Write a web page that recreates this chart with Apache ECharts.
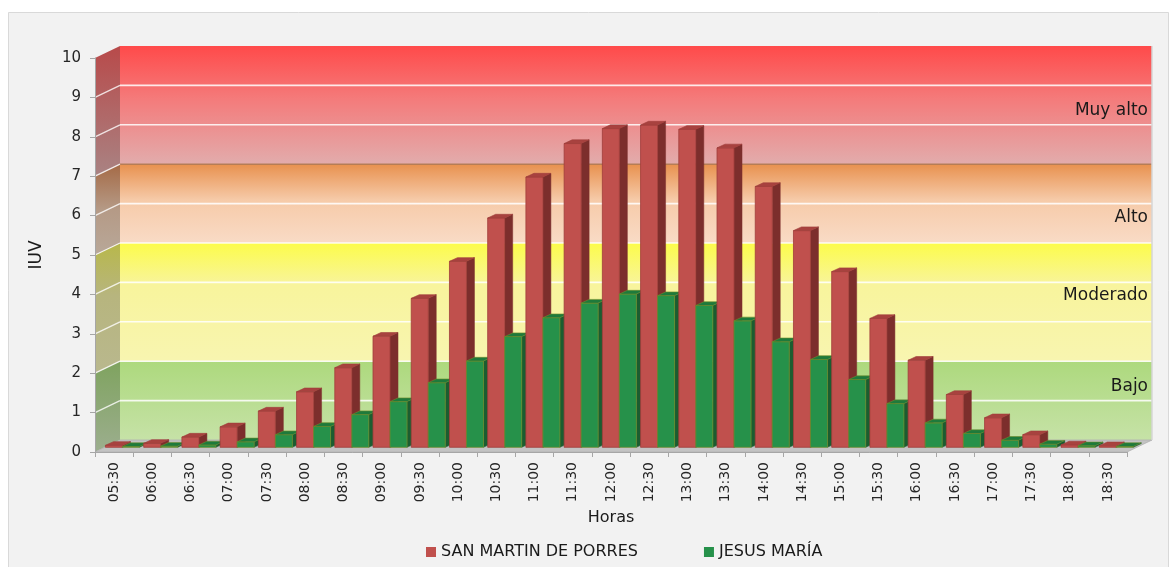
<!DOCTYPE html>
<html>
<head>
<meta charset="utf-8">
<script src="https://cdn.jsdelivr.net/npm/echarts@6/dist/echarts.min.js"></script>
<style>html,body{margin:0;padding:0;background:#fff;}#c{width:1169px;height:567px;}</style>
</head>
<body>
<div id="c"></div>
<script>
// ---- data ----
const categories = ['05:30','06:00','06:30','07:00','07:30','08:00','08:30','09:00','09:30','10:00','10:30','11:00','11:30','12:00','12:30','13:00','13:30','14:00','14:30','15:00','15:30','16:00','16:30','17:00','17:30','18:00','18:30'];
const sanMartin = [0.05,0.1,0.26,0.52,0.92,1.41,2.02,2.82,3.78,4.72,5.82,6.86,7.71,8.09,8.18,8.07,7.6,6.62,5.5,4.46,3.27,2.21,1.34,0.75,0.32,0.06,0.04];
const jesusMaria = [0.02,0.03,0.06,0.14,0.32,0.53,0.83,1.16,1.64,2.19,2.81,3.29,3.66,3.89,3.85,3.6,3.21,2.68,2.23,1.72,1.11,0.62,0.35,0.18,0.08,0.04,0.02];
const seriesNames = ['SAN MARTIN DE PORRES','JESUS MARÍA'];
const bandNames = ['Bajo','Moderado','Alto','Muy alto'];
const bandLow = [0,2,5,7];
const bandHigh = [2,5,7,10];
const bandLabelAt = [1.35,3.66,5.64,8.36];
const yTicks = [0,1,2,3,4,5,6,7,8,9,10];

// ---- styles ----
const DX = 25, DY = -12;      // back wall offset
const BX = 10, BY = -4.7;     // bar front-face depth
const BDX = 8, BDY = -3.7;    // bar depth
const FONT = 'DejaVu Sans';
const LG = (stops) => new echarts.graphic.LinearGradient(0,0,0,1,stops.map((c)=>({offset:c[0],color:c[1]})));
const bandBack = [
  [[0,'#add97d'],[1,'#c6e2a7']],
  [[0,'#fcfc4a'],[0.35,'#f8f49c'],[1,'#f8f5b0']],
  [[0,'#e8914f'],[0.45,'#f6caa8'],[1,'#f9dbc6']],
  [[0,'#ff4a4a'],[0.45,'#f47b7b'],[1,'#e2acac']]
];
const bandSide = [
  [[0,'#7fa35f'],[1,'#9cae8e']],
  [[0,'#b8b84a'],[0.4,'#b7b57e'],[1,'#b9b88e']],
  [[0,'#a56a46'],[0.5,'#b59a86'],[1,'#b8a899']],
  [[0,'#b84a4a'],[1,'#a98383']]
];
const barColors = [
  {front:'#c0504d', side:'#7c2e2c', top:'#a8423f', edge:'#a03e3b'},
  {front:'#26914a', side:'#1b5d30', top:'#1e7a3b', edge:'#6f8c2c'}
];

const chart = echarts.init(document.getElementById('c'), null, {renderer:'canvas'});

function renderWall(params, api){
  const i = params.dataIndex;
  const cs = params.coordSys;
  const x0 = cs.x, x1 = cs.x + cs.width;
  const yLo = api.coord([0, api.value(1)])[1];
  const yHi = api.coord([0, api.value(2)])[1];
  const yLab = api.coord([0, bandLabelAt[i]])[1] + DY;
  return {type:'group', children:[
    {type:'rect', z2:1, shape:{x:x0+DX, y:yHi+DY, width:cs.width, height:yLo-yHi}, style:{fill:LG(bandBack[i])}},
    {type:'polygon', z2:1, shape:{points:[[x0,yLo],[x0,yHi],[x0+DX,yHi+DY],[x0+DX,yLo+DY]]}, style:{fill:LG(bandSide[i])}},
    {type:'text', z2:5, x:x1+DX-4, y:yLab, style:{text:bandNames[i], textAlign:'right', textVerticalAlign:'middle', font:'17px "'+FONT+'"', fill:'#1a1a1a'}}
  ]};
}

function renderGrid(params, api){
  const cs = params.coordSys;
  const x0 = cs.x, x1 = cs.x + cs.width;
  const v = api.value(1);
  const y = api.coord([0, v])[1];
  if (v === 0) {
    return {type:'group', children:[
      {type:'polygon', z2:3, shape:{points:[[x0,y],[x1,y],[x1+DX,y+DY],[x0+DX,y+DY]]}, style:{fill:'#c3c3c3', stroke:'#b0b0b0', lineWidth:0.8}},
      {type:'line', z2:3, shape:{x1:x1+DX, y1:y+DY, x2:x1+DX, y2:api.coord([0,10])[1]+DY}, style:{stroke:'#d6d6d6', lineWidth:1.5}}
    ]};
  }
  if (v === 10) return null;
  const stroke = v === 7 ? 'rgba(176,120,80,0.9)' : 'rgba(255,255,255,0.85)';
  return {type:'group', children:[
    {type:'line', z2:2, shape:{x1:x0+DX, y1:y+DY, x2:x1+DX, y2:y+DY}, style:{stroke:stroke, lineWidth:1.6}},
    {type:'line', z2:2, shape:{x1:x0, y1:y, x2:x0+DX, y2:y+DY}, style:{stroke:'rgba(255,255,255,0.8)', lineWidth:1.3}}
  ]};
}

function makeBarRender(s){
  const col = barColors[s];
  return function(params, api){
    const i = api.value(0);
    const top = api.coord([i, api.value(1)]);
    const bot = api.coord([i, 0]);
    const w = api.size([1,0])[0];
    const bw = w*0.445;
    const x0 = top[0] - w/2 + BX + w*0.012 + s*bw;
    const yT = top[1] + BY, yB = bot[1] + BY;
    const z2 = 10 + i*2 + s;
    return {type:'group', children:[
      {type:'polygon', z2:z2, shape:{points:[[x0+bw,yT],[x0+bw+BDX,yT+BDY],[x0+bw+BDX,yB+BDY],[x0+bw,yB]]}, style:{fill:col.side, stroke:col.side, lineWidth:0.5}},
      {type:'rect', z2:z2, shape:{x:x0, y:yT, width:bw, height:Math.max(0,yB-yT)}, style:{fill:col.front, stroke:col.edge, lineWidth:0.8}},
      {type:'polygon', z2:z2, shape:{points:[[x0,yT],[x0+bw,yT],[x0+bw+BDX,yT+BDY],[x0+BDX,yT+BDY]]}, style:{fill:col.top, stroke:col.edge, lineWidth:0.6}}
    ]};
  };
}

const option = {
  backgroundColor:'#ffffff',
  animation:false,
  graphic:[{type:'rect', left:8, top:12, shape:{width:1160, height:560}, style:{fill:'#f2f2f2', stroke:'#d9d9d9', lineWidth:1}, z:-10, silent:true}],
  grid:{left:95, right:42, top:58, bottom:115},
  legend:{
    data:seriesNames, left:421, top:539, icon:'rect', itemWidth:10, itemHeight:10, itemGap:66,
    textStyle:{fontFamily:FONT, fontSize:16, color:'#1a1a1a'}, selectedMode:false
  },
  xAxis:{
    type:'category', data:categories, boundaryGap:true, z:6,
    name:'Horas', nameLocation:'middle', nameGap:58,
    nameTextStyle:{fontFamily:FONT, fontSize:16, color:'#1a1a1a'},
    axisLine:{lineStyle:{color:'#a6a6a6', width:1}},
    axisTick:{show:true, length:5, lineStyle:{color:'#a6a6a6'}},
    axisLabel:{rotate:90, interval:0, margin:10, fontFamily:FONT, fontSize:14, color:'#262626'},
    splitLine:{show:false}
  },
  yAxis:{
    type:'value', min:0, max:10, interval:1, z:6,
    name:'IUV', nameLocation:'middle', nameGap:50,
    nameTextStyle:{fontFamily:FONT, fontSize:17, color:'#1a1a1a'},
    axisLine:{show:true, lineStyle:{color:'#a6a6a6', width:1}},
    axisTick:{show:true, length:5, lineStyle:{color:'#a6a6a6'}},
    axisLabel:{margin:14, fontFamily:FONT, fontSize:15, color:'#262626'},
    splitLine:{show:false}
  },
  series:[
    {type:'custom', name:'bands', z:1, silent:true, renderItem:renderWall,
     data:bandLow.map((lo,i)=>[0, lo, bandHigh[i]]), encode:{x:0, y:[1,2]}},
    {type:'custom', name:'gridlines', z:1, silent:true, renderItem:renderGrid,
     data:yTicks.map(v=>[0, v]), encode:{x:0, y:1}},
    {type:'custom', name:seriesNames[0], z:2, silent:true, itemStyle:{color:barColors[0].front},
     renderItem:makeBarRender(0), data:sanMartin.map((v,i)=>[i, v]), encode:{x:0, y:1}},
    {type:'custom', name:seriesNames[1], z:2, silent:true, itemStyle:{color:barColors[1].front},
     renderItem:makeBarRender(1), data:jesusMaria.map((v,i)=>[i, v]), encode:{x:0, y:1}}
  ]
};
chart.setOption(option);
</script>
</body>
</html>
